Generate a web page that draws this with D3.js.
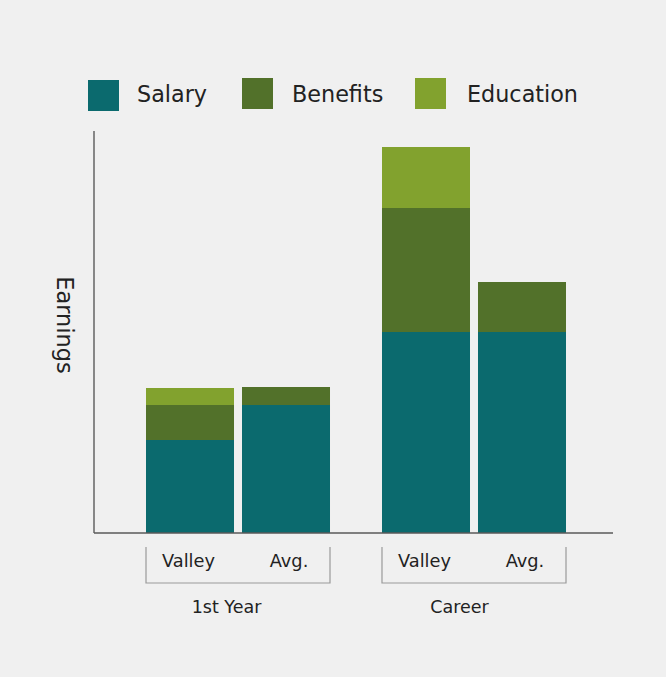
<!DOCTYPE html>
<html><head><meta charset="utf-8">
<script src="https://cdn.jsdelivr.net/npm/d3@7"></script>
<style>
html,body{margin:0;padding:0;background:#f0f0f0;}
svg{display:block;font-family:"DejaVu Sans", sans-serif;}
</style></head>
<body>
<script>
// Data (arbitrary earnings units)
const groups = ["1st Year", "Career"];
const subgroups = ["Valley", "Avg."];
const seriesNames = ["Salary", "Benefits", "Education"];
const seriesColors = ["#0b6a6e", "#52712a", "#82a22e"];
const salary    = [93, 128, 201, 201];
const benefits  = [35, 18, 124, 50];
const education = [17, 0, 61, 0];
const yMax = 402;

const W = 666, H = 677;
const svg = d3.select("body").append("svg").attr("width", W).attr("height", H);
svg.append("rect").attr("width", W).attr("height", H).attr("fill", "#f0f0f0");

const m = {left: 94, right: 53, top: 131, bottom: 144};
const plotB = H - m.bottom; // 533

const bars = [];
groups.forEach((g, gi) => subgroups.forEach((s, si) => bars.push({g, s, i: gi * 2 + si})));

const x0 = d3.scaleBand().domain(groups).range([146, 566]).paddingInner(0.2203).paddingOuter(0);
const x1 = d3.scaleBand().domain(subgroups).range([0, x0.bandwidth()]).paddingInner(0.0833).paddingOuter(0);
const y = d3.scaleLinear().domain([0, yMax]).range([plotB, m.top]);

const stackData = bars.map(b => ({g: b.g, s: b.s,
  Salary: salary[b.i], Benefits: benefits[b.i], Education: education[b.i]}));
const stack = d3.stack().keys(seriesNames)(stackData);

stack.forEach((layer, li) => {
  svg.append("g").selectAll("rect").data(layer.filter(d => d[1] > d[0])).join("rect")
    .attr("x", d => x0(d.data.g) + x1(d.data.s))
    .attr("width", x1.bandwidth())
    .attr("y", d => y(d[1]))
    .attr("height", d => y(d[0]) - y(d[1]))
    .attr("fill", seriesColors[li]);
});

// axes
svg.append("line").attr("x1", m.left).attr("x2", m.left).attr("y1", m.top).attr("y2", plotB)
  .attr("stroke", "#5a5a5a").attr("stroke-width", 1.4);
svg.append("line").attr("x1", m.left).attr("x2", W - m.right).attr("y1", plotB).attr("y2", plotB)
  .attr("stroke", "#5a5a5a").attr("stroke-width", 1.4);

// y label
svg.append("text").attr("transform", `translate(57,325) rotate(90)`)
  .attr("text-anchor", "middle").attr("font-size", 22.5).attr("fill", "#222").text("Earnings");

// group brackets
const brTop = 547, brBot = 583;
const groupLabelShift = [-11.5, -14.5];
groups.forEach((g, gi) => {
  const xl = x0(g), xr = x0(g) + x0.bandwidth();
  svg.append("path").attr("d", `M${xl},${brTop}V${brBot}H${xr}V${brTop}`)
    .attr("fill", "none").attr("stroke", "#9a9a9a").attr("stroke-width", 1.2);
  subgroups.forEach(s => {
    svg.append("text").attr("x", xl + x1(s) + x1.bandwidth() / 2 + (s === "Valley" ? -1.5 : 3)).attr("y", 566.5)
      .attr("text-anchor", "middle").attr("font-size", 17.8).attr("fill", "#222").text(s);
  });
  svg.append("text").attr("x", (xl + xr) / 2 + groupLabelShift[gi]).attr("y", 612.5)
    .attr("text-anchor", "middle").attr("font-size", 17.5).attr("fill", "#222").text(g);
});

// legend
const legX = [88, 242, 415];
const legY = [80, 78, 78];
const legTX = [137, 292, 467];
seriesNames.forEach((n, i) => {
  svg.append("rect").attr("x", legX[i]).attr("y", legY[i]).attr("width", 31).attr("height", 31).attr("fill", seriesColors[i]);
  svg.append("text").attr("x", legTX[i]).attr("y", 102.3).attr("font-size", 22.3).attr("fill", "#222").text(n);
});
</script>
</body></html>
